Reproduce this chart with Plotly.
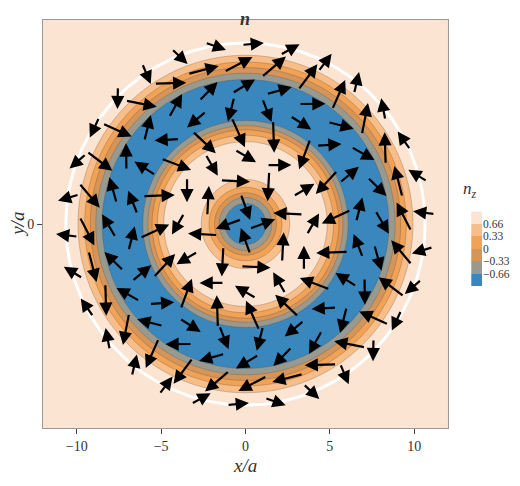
import numpy as np
import plotly.graph_objects as go

# radial profile of n_z
r_prof = [0.0, 1.0, 1.5, 2.0, 2.5, 3.0, 3.8, 4.5, 5.0, 5.5, 5.9, 6.3, 7.0, 8.0, 8.6, 9.1, 9.6, 10.1, 10.6, 13.0]
nz_prof = [-1.0, -0.85, -0.4, 0.2, 0.6, 0.85, 1.0, 0.9, 0.55, 0.05, -0.5, -0.85, -1.0, -0.95, -0.6, -0.1, 0.4, 0.8, 1.0, 1.0]

# arrow rings: radius, count, in-plane winding and angle offset (deg)
ring_r = [1.0, 2.6, 4.0, 5.4, 6.8, 8.1, 9.4, 10.6]
ring_n = [4, 8, 12, 16, 20, 24, 28, 30]
ring_w = [-1, 2, -1, 1, -2, 1, -1, -2]
ring_off = [20, 150, 60, 200, 90, 300, 120, 180]

level_text = ["\u22120.66", "\u22120.33", "0", "0.33", "0.66"]
band_colors = ["#3a87bd", "#989a90", "#d4955a", "#f0a257", "#f7be89", "#fce4d2"]

g = np.linspace(-12, 12, 241)
X, Y = np.meshgrid(g, g)
Z = np.interp(np.hypot(X, Y), r_prof, nz_prof)

cs = []
for i, c in enumerate(band_colors):
    cs += [[i / 6, c], [(i + 1) / 6, c]]

fig = go.Figure(go.Contour(
    x=g, y=g, z=Z, zmin=-0.99, zmax=0.99, colorscale=cs, showscale=False,
    contours=dict(start=-0.66, end=0.66, size=0.33, coloring="fill"),
    line=dict(color="rgba(90,60,40,0.45)", width=0.6),
))

# white circle
t = np.linspace(0, 2 * np.pi, 300)
fig.add_trace(go.Scatter(x=10.65 * np.cos(t), y=10.65 * np.sin(t), mode="lines",
                         line=dict(color="white", width=3), hoverinfo="skip", showlegend=False))

# manual colour bar
fig.add_trace(go.Heatmap(z=[[k] for k in range(6)], x=[0], y=[k + 0.5 for k in range(6)],
                         colorscale=cs, zmin=-0.5, zmax=5.5, showscale=False,
                         xaxis="x2", yaxis="y2", hoverinfo="skip"))

anns = []
for r, n, w, off in zip(ring_r, ring_n, ring_w, ring_off):
    nz = np.interp(r, r_prof, nz_prof)
    L = 1.3 + 0.6 * np.sqrt(max(0.0, 1 - nz ** 2))
    for k in range(n):
        phi = 2 * np.pi * (k + 0.5 * (r % 1)) / n
        x0, y0 = r * np.cos(phi), r * np.sin(phi)
        a = np.deg2rad(off) + w * phi
        dx, dy = L * np.cos(a) / 2, L * np.sin(a) / 2
        anns.append(dict(x=x0 + dx, y=y0 + dy, ax=x0 - dx, ay=y0 - dy, xref="x", yref="y",
                         axref="x", ayref="y", showarrow=True, arrowhead=2, arrowsize=1.2,
                         arrowwidth=2.2, arrowcolor="black", text=""))

cb_bot, cb_top = 0.348, 0.531
for k, txt in enumerate(level_text):
    anns.append(dict(x=0.963, y=cb_bot + (cb_top - cb_bot) * (k + 1) / 6, xref="paper", yref="paper",
                     text=txt, showarrow=False, xanchor="left", font=dict(size=11.5, color="#333")))
anns.append(dict(x=0.958, y=0.583, xref="paper", yref="paper", text="<i>n<sub>z</sub></i>",
                 showarrow=False, font=dict(size=17, color="#333")))
anns.append(dict(x=0.444, y=-0.122, xref="paper", yref="paper", text="<i>x/a</i>",
                 showarrow=False, font=dict(size=19, color="#333")))
anns.append(dict(x=-0.085, y=0.5, xref="paper", yref="paper", text="<i>y/a</i>", textangle=-90,
                 showarrow=False, font=dict(size=19, color="#333")))
anns.append(dict(x=0.444, y=1.033, xref="paper", yref="paper", text="<b><i>n</i></b>",
                 showarrow=False, font=dict(size=18, color="#333")))

fig.update_layout(
    width=520, height=486, annotations=anns,
    margin=dict(l=35, r=30, t=12, b=66),
    paper_bgcolor="white", plot_bgcolor="white",
    font=dict(family="Liberation Serif", color="#333"),
    showlegend=False,
    xaxis=dict(domain=[0, 0.89], range=[-12, 12], tickvals=[-10, -5, 0, 5, 10],
               ticktext=["\u221210", "\u22125", "0", "5", "10"], ticks="outside",
               showline=True, linecolor="#999", mirror=True, showgrid=False, zeroline=False,
               tickfont=dict(size=14), automargin=False),
    yaxis=dict(range=[-12, 12], tickvals=[0], ticks="outside",
               showline=True, linecolor="#999", mirror=True, showgrid=False, zeroline=False,
               tickfont=dict(size=14), automargin=False),
    xaxis2=dict(domain=[0.941, 0.965], range=[-0.5, 0.5], visible=False, anchor="y2"),
    yaxis2=dict(domain=[cb_bot, cb_top], range=[0, 6], visible=False, anchor="x2"),
)

fig.write_html("out.html")
